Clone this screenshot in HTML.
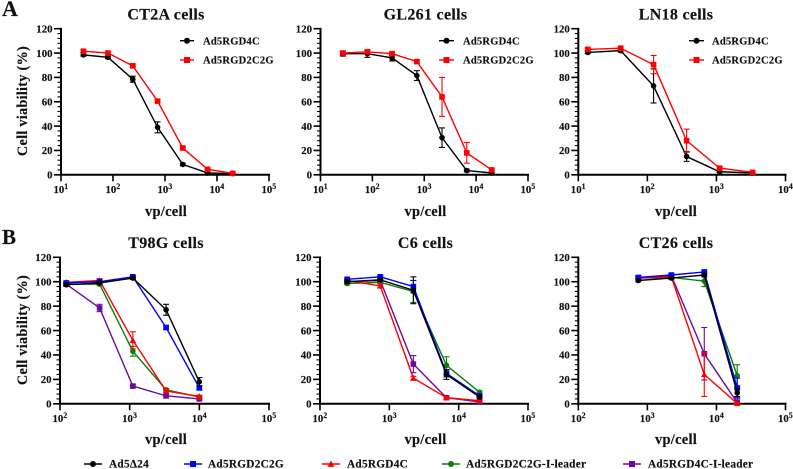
<!DOCTYPE html>
<html lang="en">
<head>
<meta charset="utf-8">
<title>Cell viability charts</title>
<style>
html,body{margin:0;padding:0;background:#fff;}
svg{display:block;font-family:"Liberation Serif",serif;font-weight:bold;filter:blur(0.35px);}
text{fill:#111;stroke:#111;stroke-width:0.15px;}
</style>
</head>
<body>
<svg id="figure" width="793" height="469" viewBox="0 0 793 469" xmlns="http://www.w3.org/2000/svg">
<text x="2" y="16" font-size="22">A</text>
<text x="2" y="244" font-size="21">B</text>
</svg>
<script>
var yTicks = [0, 20, 40, 60, 80, 100, 120];

var ct2aDoses = [27, 80, 240, 720, 2200, 6600, 20000];
var ct2aRgd4c = [98.5, 96.5, 78.5, 39, 8.5, 1.5, 1];
var ct2aRgd4cErr = [1, 1, 2.5, 4.5, 1, 0.5, 0.5];
var ct2aRgd2c2g = [101.5, 100, 89.5, 60.5, 22, 4.5, 1.2];
var ct2aRgd2c2gErr = [1, 1, 1, 1, 1, 0.5, 0.5];

var gl261Doses = [27, 80, 240, 720, 2200, 6600, 20000];
var gl261Rgd4c = [99.5, 99.5, 96, 81.5, 30.5, 3.5, 1.5];
var gl261Rgd4cErr = [2, 3, 2.5, 4, 8, 1, 0.5];
var gl261Rgd2c2g = [100, 101, 99.5, 93, 64, 18, 4];
var gl261Rgd2c2gErr = [1.5, 1.5, 1.5, 1.5, 16, 8.5, 1];

var ln18Doses = [13.7, 41, 123, 370, 1111, 3333];
var ln18Rgd4c = [100.5, 102, 73, 15, 2.5, 1.5];
var ln18Rgd4cErr = [1, 1, 14, 4, 0.5, 0.5];
var ln18Rgd2c2g = [103, 104, 90.5, 28, 5.5, 2];
var ln18Rgd2c2gErr = [1, 1, 7.5, 9.5, 1, 0.5];

var t98gDoses = [123, 370, 1111, 3333, 10000];
var t98gPurple = [98, 78.5, 14.5, 6.5, 4];
var t98gPurpleErr = [1, 3, 1, 1, 1];
var t98gGreen = [98, 98, 43, 11.5, 5.5];
var t98gGreenErr = [1, 1, 4, 1, 1];
var t98gRed = [99.5, 101, 52, 10.5, 6];
var t98gRedErr = [1, 1.5, 7, 1.5, 1];
var t98gBlue = [99, 100, 104, 62.5, 13];
var t98gBlueErr = [1, 1, 1, 1.5, 1.5];
var t98gBlack = [97.5, 99, 103, 77, 18];
var t98gBlackErr = [1, 1, 1, 4.5, 3.5];

var c6Doses = [247, 740, 2222, 6667, 20000];
var c6Purple = [100, 101, 32.5, 5, 1.5];
var c6PurpleErr = [1, 1, 7, 1, 1];
var c6Green = [98.5, 99.5, 92, 31.5, 9.5];
var c6GreenErr = [1, 1, 9, 7, 1];
var c6Red = [101, 96.5, 21, 5, 2.5];
var c6RedErr = [1, 1.5, 1.5, 1, 1];
var c6Blue = [102, 104, 96, 25, 6.5];
var c6BlueErr = [1, 1, 5, 3, 1];
var c6Black = [100, 101.5, 93, 24, 5.5];
var c6BlackErr = [1.5, 1, 11, 4, 1];

var ct26Doses = [740, 2222, 6667, 20000];
var ct26Purple = [103, 105, 41, 1];
var ct26PurpleErr = [1, 1, 21.5, 3];
var ct26Green = [103, 103.5, 100.5, 23];
var ct26GreenErr = [1, 1, 4.5, 9];
var ct26Red = [103, 104, 24, 0.3];
var ct26RedErr = [1, 1, 18, 0.5];
var ct26Blue = [103.5, 105.5, 108, 13];
var ct26BlueErr = [1, 1, 1.5, 8];
var ct26Black = [101, 103, 105.5, 9];
var ct26BlackErr = [1, 1, 1.5, 3];

var NS = 'http://www.w3.org/2000/svg';
var root = document.getElementById('figure');
var BLACK = '#000000', RED = '#ff0000', BLUE = '#0000ff', GREEN = '#0a7d0a', PURPLE = '#6a0a9c';

function make(parent, tag, attrs, txt) {
  var el = document.createElementNS(NS, tag);
  for (var k in attrs) el.setAttribute(k, attrs[k]);
  if (txt !== undefined) el.textContent = txt;
  parent.appendChild(el);
  return el;
}

function drawMarker(g, shape, x, y, color, s) {
  var m;
  if (shape === 'circle') {
    m = make(g, 'circle', {cx: x, cy: y, r: s, fill: color});
  } else if (shape === 'square') {
    m = make(g, 'rect', {x: x - s, y: y - s, width: 2 * s, height: 2 * s, fill: color});
  } else {
    m = make(g, 'polygon', {points: (x - s * 1.15) + ',' + (y + s * 0.95) + ' ' + (x + s * 1.15) + ',' + (y + s * 0.95) + ' ' + x + ',' + (y - s * 1.2), fill: color});
  }
  
  
}

function drawLegendEntry(x1, x2, y, tx, shape, color, label, size) {
  var g = make(root, 'g', {});
  
  
  make(g, 'line', {x1: x1, x2: x2, y1: y, y2: y, stroke: color, 'stroke-width': 1.4});
  drawMarker(g, shape, (x1 + x2) / 2, y, color, 3);
  make(g, 'text', {x: tx, y: y + 3.6, 'font-size': size, 'letter-spacing': 0.25}, label);
}

function drawPanel(p) {
  var g = make(root, 'g', {});
  
  
  var logMin = p.logMin, logMax = p.logMax;
  function xs(v) { return p.x0 + (Math.log10(v) - logMin) / (logMax - logMin) * (p.x1 - p.x0); }
  function ys(v) { return p.y0 - v / 120 * (p.y0 - p.y1); }

  var ya = make(g, 'g', {stroke: '#000'});
  
  
  for (var v = 0; v <= 120; v += 4) {
    make(ya, 'line', {x1: p.x0 - 3.5, x2: p.x0, y1: ys(v), y2: ys(v), 'stroke-width': 1.1});
  }
  yTicks.forEach(function (t) {
    make(ya, 'line', {x1: p.x0 - 7, x2: p.x0, y1: ys(t), y2: ys(t), 'stroke-width': 1.6});
    make(g, 'text', {x: p.x0 - 8.5, y: ys(t) + 3.7, 'font-size': 10.8, 'text-anchor': 'end'}, String(t));
  });
  make(ya, 'line', {x1: p.x0, x2: p.x0, y1: p.y1 - 0.8, y2: p.y0 + 1, 'stroke-width': 2});

  var xa = make(g, 'g', {stroke: '#000'});
  
  
  make(xa, 'line', {x1: p.x0 - 1, x2: p.x1 + 1, y1: p.y0, y2: p.y0, 'stroke-width': 2});
  for (var e = logMin; e <= logMax; e++) {
    var tx = xs(Math.pow(10, e));
    make(xa, 'line', {x1: tx, x2: tx, y1: p.y0, y2: p.y0 + 6.5, 'stroke-width': 1.6});
    var lab = make(g, 'text', {x: tx - 7.5, y: p.y0 + 18, 'font-size': 10.8});
    make(lab, 'tspan', {}, '10');
    make(lab, 'tspan', {dy: -3.8, 'font-size': 8}, String(e));
  }

  var title = make(g, 'text', {x: p.titleX, y: p.titleY, 'font-size': p.titleSize, 'text-anchor': 'middle', 'letter-spacing': 0.3}, p.title);
  
  
  var xt = make(g, 'text', {x: p.titleX, y: p.xLabelY, 'font-size': 14.5, 'text-anchor': 'middle', 'letter-spacing': 0.25}, 'vp/cell');
  
  
  if (p.yLabel) {
    var yt = make(g, 'text', {transform: 'translate(27,' + p.yLabelY + ') rotate(-90)', 'font-size': 14.3, 'text-anchor': 'middle', 'letter-spacing': 0.25}, 'Cell viability (%)');
    
    
  }

  p.series.forEach(function (s) {
    var sg = make(g, 'g', {});
    
    
    var pts = s.values.map(function (val, i) { return xs(p.doses[i]) + ',' + ys(val); }).join(' ');
    make(sg, 'polyline', {points: pts, fill: 'none', stroke: s.color, 'stroke-width': 1.4});
    s.values.forEach(function (val, i) {
      var x = xs(p.doses[i]);
      var hi = ys(val + s.err[i]), lo = ys(Math.max(val - s.err[i], 0));
      make(sg, 'line', {x1: x, x2: x, y1: hi, y2: lo, stroke: s.color, 'stroke-width': 1.1});
      make(sg, 'line', {x1: x - 3, x2: x + 3, y1: hi, y2: hi, stroke: s.color, 'stroke-width': 1.1});
      make(sg, 'line', {x1: x - 3, x2: x + 3, y1: lo, y2: lo, stroke: s.color, 'stroke-width': 1.1});
      drawMarker(sg, s.shape, x, ys(val), s.color, 2.8);
    });
  });
}

var rowA = {y0: 174.8, y1: 28.7, titleY: 19.5, xLabelY: 216, titleSize: 16};
var rowB = {y0: 403.8, y1: 257.3, titleY: 248, xLabelY: 444, titleSize: 16};

function twoSeries(doses, a, aErr, b, bErr) {
  return [
    {name: 'series-ad5rgd4c', values: a, err: aErr, color: BLACK, shape: 'circle'},
    {name: 'series-ad5rgd2c2g', values: b, err: bErr, color: RED, shape: 'square'}
  ];
}
function fiveSeries(pu, puE, gr, grE, re, reE, bl, blE, bk, bkE) {
  return [
    {name: 'series-ad5rgd4c-i-leader', values: pu, err: puE, color: PURPLE, shape: 'square'},
    {name: 'series-ad5rgd2c2g-i-leader', values: gr, err: grE, color: GREEN, shape: 'circle'},
    {name: 'series-ad5rgd4c', values: re, err: reE, color: RED, shape: 'triangle'},
    {name: 'series-ad5rgd2c2g', values: bl, err: blE, color: BLUE, shape: 'square'},
    {name: 'series-ad5-delta24', values: bk, err: bkE, color: BLACK, shape: 'circle'}
  ];
}
function withRow(row, o) {
  for (var k in row) o[k] = row[k];
  return o;
}

drawPanel(withRow(rowA, {name: 'chart-ct2a', title: 'CT2A cells', titleX: 166, x0: 61, x1: 269, logMin: 1, logMax: 5, yLabel: true, yLabelY: 101, doses: ct2aDoses, series: twoSeries(ct2aDoses, ct2aRgd4c, ct2aRgd4cErr, ct2aRgd2c2g, ct2aRgd2c2gErr)}));
drawPanel(withRow(rowA, {name: 'chart-gl261', title: 'GL261 cells', titleX: 425.5, x0: 320.5, x1: 528, logMin: 1, logMax: 5, doses: gl261Doses, series: twoSeries(gl261Doses, gl261Rgd4c, gl261Rgd4cErr, gl261Rgd2c2g, gl261Rgd2c2gErr)}));
drawPanel(withRow(rowA, {name: 'chart-ln18', title: 'LN18 cells', titleX: 676, x0: 578.3, x1: 785.5, logMin: 1, logMax: 4, doses: ln18Doses, series: twoSeries(ln18Doses, ln18Rgd4c, ln18Rgd4cErr, ln18Rgd2c2g, ln18Rgd2c2gErr)}));
drawPanel(withRow(rowB, {name: 'chart-t98g', title: 'T98G cells', titleX: 166, x0: 60, x1: 269, logMin: 2, logMax: 5, yLabel: true, yLabelY: 330, doses: t98gDoses, series: fiveSeries(t98gPurple, t98gPurpleErr, t98gGreen, t98gGreenErr, t98gRed, t98gRedErr, t98gBlue, t98gBlueErr, t98gBlack, t98gBlackErr)}));
drawPanel(withRow(rowB, {name: 'chart-c6', title: 'C6 cells', titleX: 425.5, x0: 320, x1: 528, logMin: 2, logMax: 5, doses: c6Doses, series: fiveSeries(c6Purple, c6PurpleErr, c6Green, c6GreenErr, c6Red, c6RedErr, c6Blue, c6BlueErr, c6Black, c6BlackErr)}));
drawPanel(withRow(rowB, {name: 'chart-ct26', title: 'CT26 cells', titleX: 676, x0: 578.3, x1: 785.5, logMin: 2, logMax: 5, doses: ct26Doses, series: fiveSeries(ct26Purple, ct26PurpleErr, ct26Green, ct26GreenErr, ct26Red, ct26RedErr, ct26Blue, ct26BlueErr, ct26Black, ct26BlackErr)}));

drawLegendEntry(180, 194, 40.7, 203, 'circle', BLACK, 'Ad5RGD4C', 10.5);
drawLegendEntry(180, 194, 60, 203, 'square', RED, 'Ad5RGD2C2G', 10.5);
drawLegendEntry(439, 454, 40.7, 463, 'circle', BLACK, 'Ad5RGD4C', 10.5);
drawLegendEntry(439, 454, 60, 463, 'square', RED, 'Ad5RGD2C2G', 10.5);
drawLegendEntry(689, 704, 40.7, 712, 'circle', BLACK, 'Ad5RGD4C', 10.5);
drawLegendEntry(689, 704, 60, 712, 'square', RED, 'Ad5RGD2C2G', 10.5);

drawLegendEntry(84, 102, 464, 109, 'circle', BLACK, 'Ad5\u039424', 11.3);
drawLegendEntry(184, 202, 464, 208, 'square', BLUE, 'Ad5RGD2C2G', 11.3);
drawLegendEntry(322, 340, 464, 347, 'triangle', RED, 'Ad5RGD4C', 11.3);
drawLegendEntry(442, 460, 464, 466, 'circle', GREEN, 'Ad5RGD2C2G-I-leader', 11.3);
drawLegendEntry(623, 641, 464, 648, 'square', PURPLE, 'Ad5RGD4C-I-leader', 11.3);
</script>
</body>
</html>
